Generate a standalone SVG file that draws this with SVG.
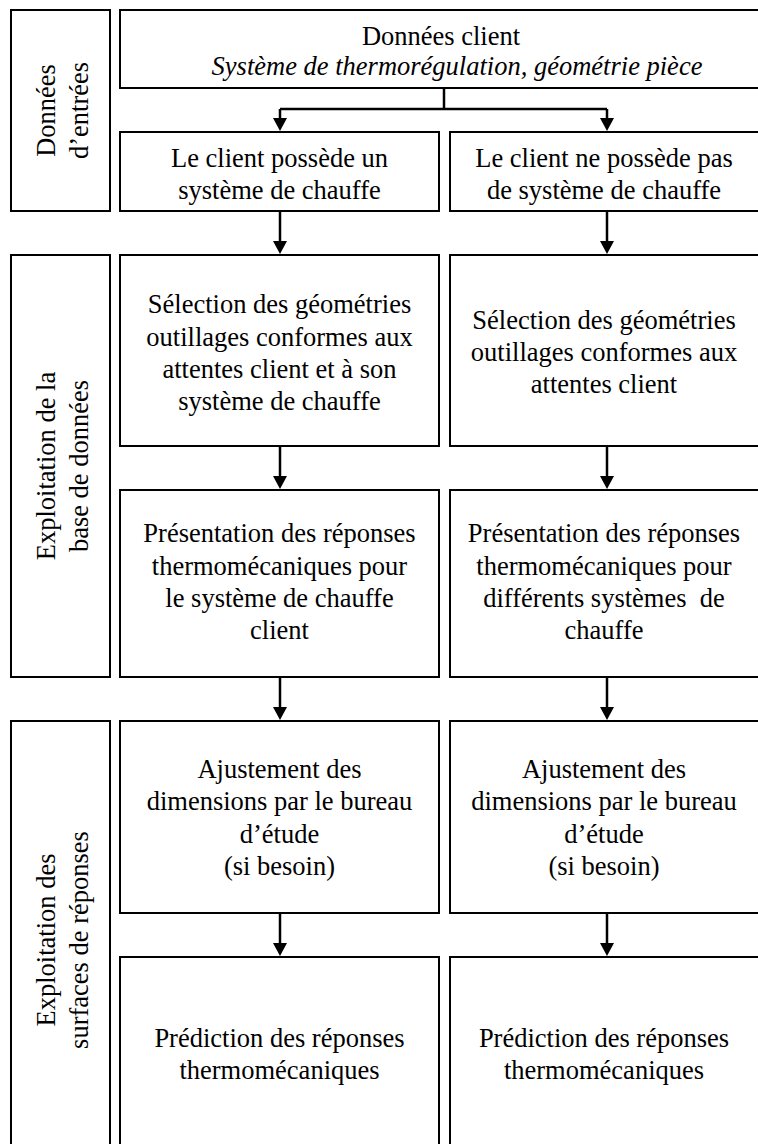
<svg xmlns="http://www.w3.org/2000/svg" width="758" height="1144" viewBox="0 0 758 1144">
<style>
.box{fill:#fff;stroke:#000;stroke-width:2}
text{font-family:"Liberation Serif","Times New Roman",Times,serif;font-size:26.5px;fill:#000;text-anchor:middle}
.i{font-style:italic}
.c{fill:none;stroke:#000;stroke-width:2.5}
</style>
<defs>
<marker id="ah" viewBox="0 0 13 14" refX="7" refY="7" markerWidth="13" markerHeight="14" markerUnits="userSpaceOnUse" orient="auto">
<path d="M0,0 L13,7 L0,14 z" fill="#000"/>
</marker>
</defs>
<rect width="758" height="1144" fill="#fff"/>

<g id="lbl-donnees">
<rect class="box" x="11" y="10" width="99" height="201"/>
<text transform="translate(55,110.5) rotate(-90)">Données</text>
<text transform="translate(88,110.5) rotate(-90)">d’entrées</text>
</g>
<g id="lbl-exploitation-bdd">
<rect class="box" x="11" y="255" width="99" height="422"/>
<text transform="translate(55,466) rotate(-90)">Exploitation de la</text>
<text transform="translate(88,466) rotate(-90)">base de données</text>
</g>
<g id="lbl-exploitation-surfaces">
<rect class="box" x="11" y="721" width="99" height="440"/>
<text transform="translate(55,940) rotate(-90)">Exploitation des</text>
<text transform="translate(88,940) rotate(-90)">surfaces de réponses</text>
</g>

<g id="donnees-client">
<rect class="box" x="120" y="10" width="645" height="78"/>
<text x="441" y="45">Données client</text>
<text class="i" x="457" y="75">Système de thermorégulation, géométrie pièce</text>
</g>

<g id="client-possede">
<rect class="box" x="120" y="132" width="319" height="79"/>
<text x="279.5" y="167">Le client possède un</text>
<text x="279.5" y="199">système de chauffe</text>
</g>
<g id="client-ne-possede-pas">
<rect class="box" x="450" y="132" width="315" height="79"/>
<text x="604" y="167">Le client ne possède pas</text>
<text x="604" y="199">de système de chauffe</text>
</g>

<g id="selection-gauche">
<rect class="box" x="120" y="255" width="319" height="191"/>
<text x="279.5" y="313">Sélection des géométries</text>
<text x="279.5" y="345.5">outillages conformes aux</text>
<text x="279.5" y="378">attentes client et à son</text>
<text x="279.5" y="410">système de chauffe</text>
</g>
<g id="selection-droite">
<rect class="box" x="450" y="255" width="315" height="191"/>
<text x="604" y="329">Sélection des géométries</text>
<text x="604" y="361">outillages conformes aux</text>
<text x="604" y="393">attentes client</text>
</g>

<g id="presentation-gauche">
<rect class="box" x="120" y="490" width="319" height="187"/>
<text x="279.5" y="542">Présentation des réponses</text>
<text x="279.5" y="575">thermomécaniques pour</text>
<text x="279.5" y="607">le système de chauffe</text>
<text x="279.5" y="639">client</text>
</g>
<g id="presentation-droite">
<rect class="box" x="450" y="490" width="315" height="187"/>
<text x="604" y="542">Présentation des réponses</text>
<text x="604" y="575">thermomécaniques pour</text>
<text x="604" y="607" style="white-space:pre">différents systèmes  de</text>
<text x="604" y="639">chauffe</text>
</g>

<g id="ajustement-gauche">
<rect class="box" x="120" y="721" width="319" height="192"/>
<text x="279.5" y="778">Ajustement des</text>
<text x="279.5" y="810">dimensions par le bureau</text>
<text x="279.5" y="843">d’étude</text>
<text x="279.5" y="875">(si besoin)</text>
</g>
<g id="ajustement-droite">
<rect class="box" x="450" y="721" width="315" height="192"/>
<text x="604" y="778">Ajustement des</text>
<text x="604" y="810">dimensions par le bureau</text>
<text x="604" y="843">d’étude</text>
<text x="604" y="875">(si besoin)</text>
</g>

<g id="prediction-gauche">
<rect class="box" x="120" y="957" width="319" height="210"/>
<text x="279.5" y="1047">Prédiction des réponses</text>
<text x="279.5" y="1079">thermomécaniques</text>
</g>
<g id="prediction-droite">
<rect class="box" x="450" y="957" width="315" height="210"/>
<text x="604" y="1047">Prédiction des réponses</text>
<text x="604" y="1079">thermomécaniques</text>
</g>

<g id="connectors">
<path class="c" d="M444,88 V109"/>
<path class="c" d="M280,109 H607"/>
<path class="c" d="M280,109 V125" marker-end="url(#ah)"/>
<path class="c" d="M607,109 V125" marker-end="url(#ah)"/>
<path class="c" d="M280,211 V248" marker-end="url(#ah)"/>
<path class="c" d="M607,211 V248" marker-end="url(#ah)"/>
<path class="c" d="M280,446 V483" marker-end="url(#ah)"/>
<path class="c" d="M607,446 V483" marker-end="url(#ah)"/>
<path class="c" d="M280,677 V714" marker-end="url(#ah)"/>
<path class="c" d="M607,677 V714" marker-end="url(#ah)"/>
<path class="c" d="M280,913 V950" marker-end="url(#ah)"/>
<path class="c" d="M607,913 V950" marker-end="url(#ah)"/>
</g>
</svg>
